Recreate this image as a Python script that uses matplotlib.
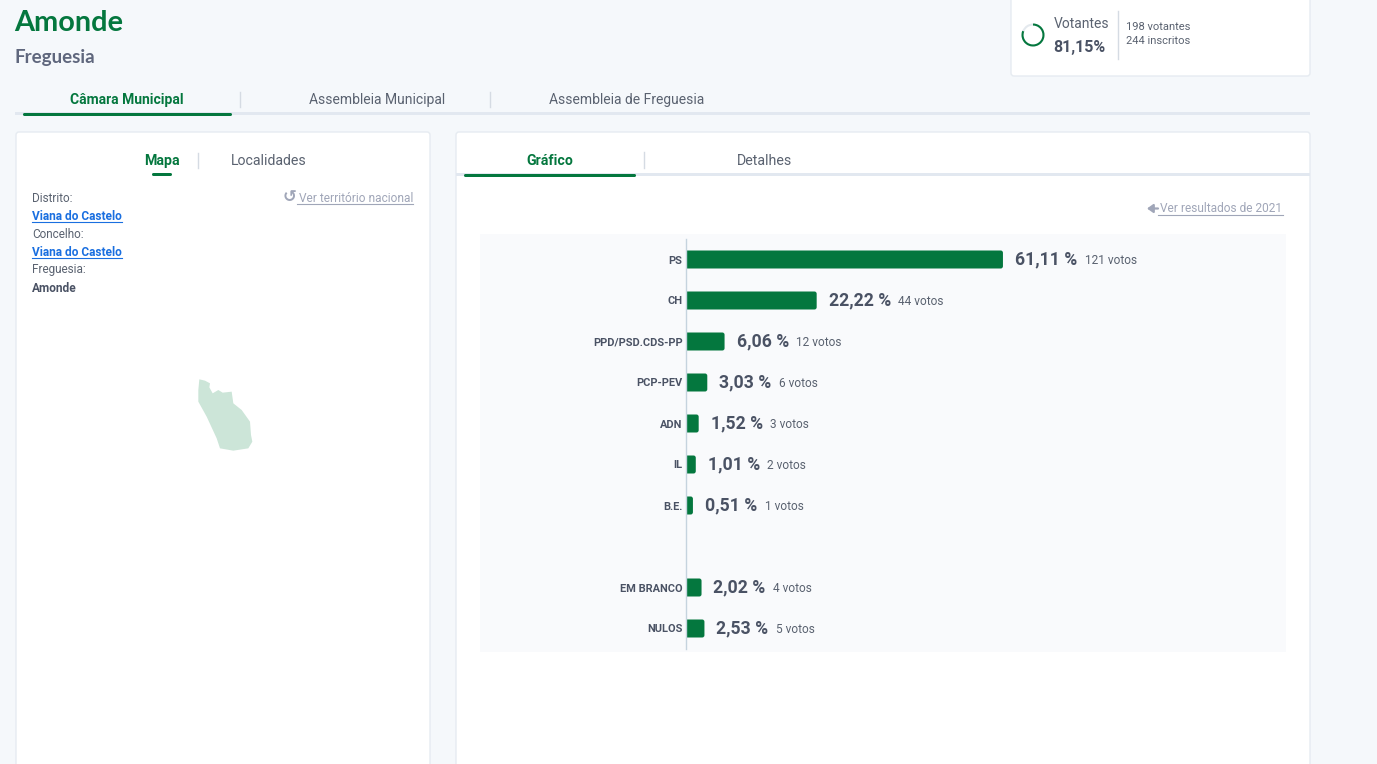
import numpy as np
import matplotlib
matplotlib.use("Agg")
import matplotlib.pyplot as plt
from matplotlib.patches import FancyBboxPatch, Polygon, Rectangle

parties = ["PS", "CH", "PPD/PSD.CDS-PP", "PCP-PEV", "ADN", "IL", "B.E.", "", "EM BRANCO", "NULOS"]
percent = [61.11, 22.22, 6.06, 3.03, 1.52, 1.01, 0.51, None, 2.02, 2.53]
votes = [121, 44, 12, 6, 3, 2, 1, None, 4, 5]
turnout = [81.15, 18.85]

main_tabs = ["Câmara Municipal", "Assembleia Municipal", "Assembleia de Freguesia"]
location_rows = ["Distrito:", "Viana do Castelo", "Concelho:", "Viana do Castelo", "Freguesia:", "Amonde"]

# outline of the parish
map_x = [88, 105, 120, 118, 128, 145, 158, 185, 190, 215, 240, 243, 247, 235, 190, 150, 140, 110, 85, 85]
map_y = [58, 62, 70, 82, 100, 90, 98, 95, 130, 150, 185, 225, 245, 265, 272, 265, 235, 170, 125, 90]

GREEN = "#04773e"
DARK = "#4a5264"
GREY = "#5a6270"
MUTED = "#a0a6b8"
LINE = "#e2e8f0"
SEP = "#d5dbe3"
BLUE = "#1a6fe0"

W, H = 1377, 764
BAR_STUB = 0.53    # bars run a little longer than their value
BAR_CAP = 54.9     # the site caps the longest bar
PX_PER_PCT = 5.7

plt.rcParams["font.family"] = ["Roboto", "DejaVu Sans"]

fig = plt.figure(figsize=(W / 100, H / 100), dpi=100, facecolor="#f5f8fb")

# page layer in pixel coordinates
bg = fig.add_axes([0, 0, 1, 1])
bg.set_xlim(0, W)
bg.set_ylim(H, 0)
bg.axis("off")


def card(x0, y0, x1, y1, color="white", edge="#e6ebf1"):
    bg.add_patch(FancyBboxPatch((x0, y0), x1 - x0, y1 - y0, boxstyle="round,pad=0,rounding_size=3",
                                fc=color, ec=edge, lw=1))


def hbar(x0, x1, y, h, color):
    bg.add_patch(FancyBboxPatch((x0, y), x1 - x0, h, boxstyle="round,pad=0,rounding_size=1.5", fc=color, ec="none"))


def vsep(x, y0, y1):
    bg.plot([x, x], [y0, y1], color=SEP, lw=1)


def label(x, y, s, size, color=GREY, weight="normal", ha="left", family=None):
    return bg.text(x, y, s, fontsize=size, color=color, fontweight=weight, ha=ha, va="center",
                   family=family or plt.rcParams["font.family"])


card(1011, -10, 1310, 76)
card(16, 132, 430, 780)
card(456, 132, 1310, 780)
bg.add_patch(Rectangle((480, 234), 806, 418, fc="#f9fafc", ec="none"))

# header
label(14, 23, "Amonde", 20.8, GREEN, "bold", family="Lato")
label(15, 58, "Freguesia", 13.5, "#5f677d", "bold", family="Lato")

# main tabs
bg.add_patch(Rectangle((15, 112), 1295, 3, fc=LINE, ec="none"))
hbar(23, 232, 113, 3, GREEN)
label(127, 100, main_tabs[0], 10, GREEN, "bold", ha="center")
label(377, 100, main_tabs[1], 10, GREY, ha="center")
label(627, 100, main_tabs[2], 10, GREY, ha="center")
vsep(240, 92, 107)
vsep(490, 92, 107)

# left panel
label(162, 161, "Mapa", 10.2, GREEN, "bold", ha="center")
label(268.5, 161, "Localidades", 10.2, GREY, ha="center")
vsep(198, 153, 168)
hbar(152, 172, 173, 3, GREEN)

for i, row in enumerate(location_rows):
    y = 198 + i * 18
    if i in (1, 3):
        label(32, y, row, 8.6, BLUE, "bold")
        bg.plot([32, 122], [y + 6, y + 6], color=BLUE, lw=0.8)
    elif i == 5:
        label(32, y, row, 8.6, DARK, "bold")
    else:
        label(32, y, row, 8.5, GREY)

label(283, 197, "↺", 12, MUTED, "bold", family="DejaVu Sans")
label(299, 198, "Ver território nacional", 8.6, MUTED)
bg.plot([297, 413], [204, 204], color=MUTED, lw=0.8)

bg.add_patch(Polygon(np.column_stack([170 + np.array(map_x) / 3, 360 + np.array(map_y) / 3]),
                     closed=True, fc="#cce5d8", ec="none"))

# right panel tabs
bg.add_patch(Rectangle((456, 173), 854, 3, fc=LINE, ec="none"))
hbar(464, 636, 174, 3, GREEN)
label(550, 161, "Gráfico", 10.2, GREEN, "bold", ha="center")
label(764, 161, "Detalhes", 10.2, GREY, ha="center")
vsep(644, 152, 168)

bg.annotate("", xy=(1147, 208.5), xytext=(1158, 208.5),
            arrowprops=dict(arrowstyle="-|>,head_width=0.25,head_length=0.35", color=MUTED, lw=1.6,
                            shrinkA=0, shrinkB=0))
label(1160, 209, "Ver resultados de 2021", 8.6, MUTED)
bg.plot([1158, 1283], [214.5, 214.5], color=MUTED, lw=0.8)

# turnout card
label(1053.5, 24, "Votantes", 10, GREY)
label(1053, 47.5, "81,15%", 11.5, DARK, "bold")
vsep(1117.5, 11, 59)
label(1126.5, 27, "198 votantes", 8, GREY)
label(1126.5, 41, "244 inscritos", 8, GREY)

donut = fig.add_axes([1021 / W, 1 - 47 / H, 24 / W, 24 / H])
donut.pie(turnout, colors=[GREEN, "#e4e9ee"], startangle=90, counterclock=False, radius=1.2,
          wedgeprops=dict(width=0.22))
donut.set_aspect("equal")

# results chart, 10 rows between y=239 and y=649, zero at x=687
ax = fig.add_axes([687 / W, 1 - 649 / H, 599 / W, 410 / H])
ax.patch.set_alpha(0)
ax.set_xlim(0, 599 / PX_PER_PCT)
ax.set_ylim(len(parties) - 0.5, -0.5)
for side in ["top", "right", "bottom"]:
    ax.spines[side].set_visible(False)
ax.spines["left"].set_color("#c5d3de")
ax.spines["left"].set_linewidth(1)
ax.spines["left"].set_position(("outward", 0.5))
ax.set_xticks([])
ax.set_yticks(range(len(parties)))
ax.set_yticklabels(parties, fontsize=7.9, fontweight="bold", color=DARK)
ax.tick_params(axis="y", length=0, pad=2.8)

rows = [i for i, p in enumerate(percent) if p is not None]
pct = np.array([percent[i] for i in rows])
ends = np.minimum(pct, BAR_CAP) + BAR_STUB
bars = ax.barh(rows, ends + BAR_STUB, left=-BAR_STUB, height=18 / 41, color=GREEN)

# swap the square bars for ones with rounded ends
for b in bars:
    x, y, w, h = b.get_x(), b.get_y(), b.get_width(), b.get_height()
    b.set_visible(False)
    ax.add_patch(FancyBboxPatch((x, y), w, h, boxstyle="round,pad=0,rounding_size=0.4",
                                mutation_aspect=PX_PER_PCT / 41, fc=GREEN, ec="none"))

fig.canvas.draw()
renderer = fig.canvas.get_renderer()
for row, p, end in zip(rows, pct, ends):
    t = ax.annotate(f"{p:.2f} %".replace(".", ","), (end, row), xytext=(8.6, 0), textcoords="offset points",
                    fontsize=12.7, fontweight="bold", color=DARK, va="center")
    gap = t.get_window_extent(renderer).x1 - ax.transData.transform((end, row))[0]
    ax.annotate(f"{votes[row]} votos", (end, row + 0.03), xytext=((gap + 7.5) * 0.72, 0),
                textcoords="offset points", fontsize=8.6, color=GREY, va="center")

fig.savefig("out.png", dpi=100, facecolor=fig.get_facecolor())
